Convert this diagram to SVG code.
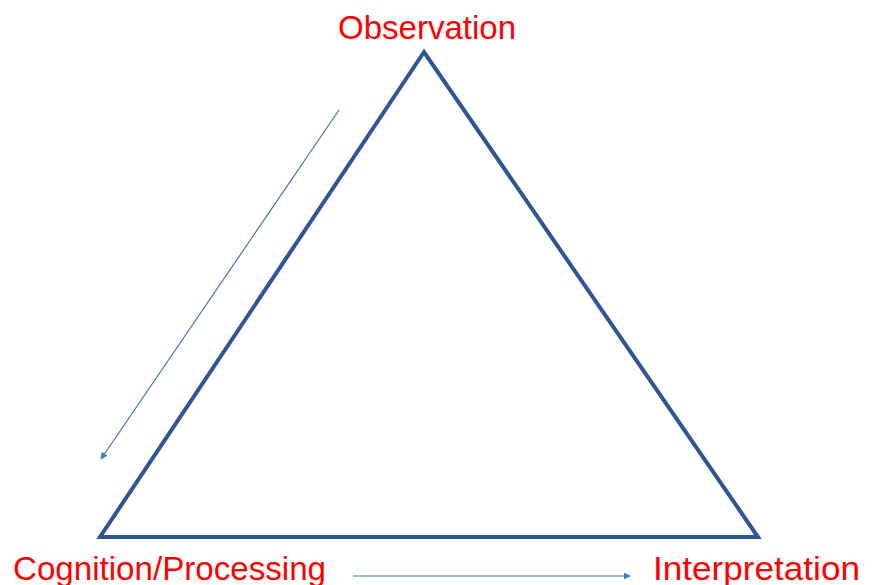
<svg xmlns="http://www.w3.org/2000/svg" width="874" height="585" viewBox="0 0 874 585">
<style>
.lbl{font-family:"Liberation Sans",Arial,sans-serif;font-size:33px;fill:#FF0000}
.arr{stroke:#4472C4;stroke-width:1.2;fill:none}
</style>
<defs>
<marker id="ah" viewBox="0 0 10 10" refX="9" refY="5" markerWidth="7" markerHeight="7" orient="auto" markerUnits="userSpaceOnUse">
<path d="M0,0 L10,5 L0,10 z" fill="#4472C4"/>
</marker>
</defs>
<rect width="874" height="585" fill="#fff"/>
<g id="triangle">
<polygon points="424,52 100,537 758,537" fill="none" stroke="#2F5597" stroke-width="4" stroke-linejoin="miter"/>
</g>
<g id="observation"><text class="lbl" x="338" y="39" textLength="178" lengthAdjust="spacingAndGlyphs">Observation</text></g>
<g id="cognition"><text class="lbl" x="13" y="580" textLength="313" lengthAdjust="spacingAndGlyphs">Cognition/Processing</text></g>
<g id="interpretation"><text class="lbl" x="653" y="580" textLength="207" lengthAdjust="spacingAndGlyphs">Interpretation</text></g>
<g id="connectors">
<line class="arr" x1="339" y1="110" x2="101" y2="459" marker-end="url(#ah)"/>
<line class="arr" x1="353" y1="576" x2="630" y2="576" marker-end="url(#ah)"/>
</g>
</svg>
